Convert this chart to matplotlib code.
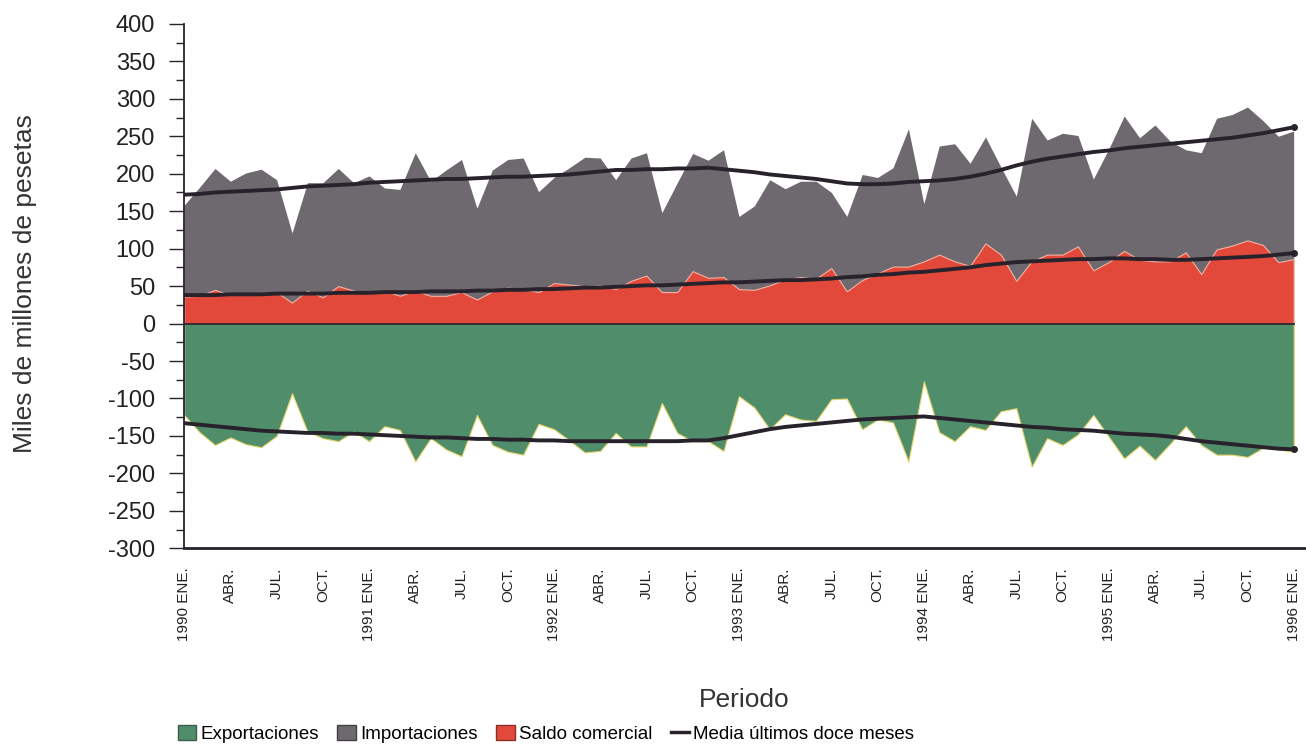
import numpy as np
import matplotlib
matplotlib.use("Agg")
import matplotlib.pyplot as plt
from matplotlib.patches import Patch
from matplotlib.lines import Line2D
from matplotlib.ticker import MultipleLocator

plt.rcParams['font.family'] = ['Liberation Sans', 'DejaVu Sans']
plt.rcParams['axes.unicode_minus'] = False

# monthly data, 1990 ENE .. 1996 ENE (miles de millones de pesetas)
importaciones = [158, 182, 207, 190, 201, 206, 192, 121, 188, 188, 207, 188,
                 197, 181, 179, 228, 190, 205, 219, 154, 205, 219, 221, 176,
                 195, 208, 222, 221, 192, 221, 228, 148, 188, 227, 218, 232,
                 143, 157, 192, 180, 190, 190, 175, 143, 199, 195, 208, 260,
                 160, 237, 240, 214, 249, 209, 170, 274, 245, 254, 251, 193,
                 233, 277, 248, 265, 243, 232, 228, 274, 279, 289, 271, 250,
                 257]

exportaciones = [-122, -145, -162, -152, -161, -165, -150, -93, -144, -153, -157, -144,
                 -157, -137, -142, -184, -153, -168, -177, -122, -162, -171, -175, -134,
                 -141, -156, -172, -170, -146, -164, -164, -106, -146, -157, -157, -170,
                 -97, -112, -141, -121, -128, -130, -101, -100, -141, -128, -132, -184,
                 -77, -145, -157, -137, -142, -117, -113, -191, -153, -162, -148, -122,
                 -151, -180, -163, -182, -160, -137, -162, -175, -175, -178, -166, -168,
                 -171]

saldo = [36, 37, 45, 38, 40, 41, 42, 28, 44, 35, 50, 44,
         40, 44, 37, 44, 37, 37, 42, 32, 43, 48, 46, 42,
         54, 52, 50, 51, 46, 57, 64, 42, 42, 70, 61, 62,
         46, 45, 51, 59, 62, 60, 74, 43, 58, 67, 76, 76,
         83, 92, 83, 77, 107, 92, 57, 83, 92, 92, 103, 71,
         82, 97, 85, 83, 83, 95, 66, 99, 104, 111, 105, 82,
         86]

# media ultimos doce meses
media_imp = [172, 173, 175, 176, 177, 178, 179, 181, 183, 184, 185, 186,
             188, 189, 190, 191, 192, 193, 193, 194, 195, 196, 196, 197,
             198, 199, 201, 203, 205, 205, 206, 206, 207, 207, 208, 206,
             204, 202, 199, 197, 195, 193, 190, 187, 186, 186, 187, 189,
             190, 191, 193, 196, 200, 205, 211, 216, 220, 223, 226, 229,
             231, 234, 236, 238, 240, 242, 244, 246, 248, 251, 254, 258,
             262]

media_exp = [-133, -135, -137, -139, -141, -143, -144, -145, -146, -146, -147, -147,
             -148, -149, -150, -151, -152, -152, -153, -154, -154, -155, -155, -156,
             -156, -157, -157, -157, -157, -157, -157, -157, -157, -156, -156, -153,
             -149, -145, -141, -138, -136, -134, -132, -130, -128, -127, -126, -125,
             -124, -126, -128, -130, -132, -134, -136, -138, -139, -141, -142, -143,
             -145, -147, -148, -149, -151, -154, -157, -159, -161, -163, -165, -167,
             -168]

media_saldo = [38, 38, 38, 39, 39, 39, 40, 40, 40, 40, 41, 41,
               41, 42, 42, 42, 43, 43, 43, 44, 44, 45, 45, 46,
               46, 47, 48, 48, 49, 50, 51, 51, 52, 53, 54, 55,
               55, 56, 57, 58, 58, 59, 60, 62, 63, 65, 66, 68,
               69, 71, 73, 75, 78, 80, 82, 83, 84, 85, 86, 86,
               87, 87, 86, 86, 85, 85, 86, 87, 88, 89, 90, 92,
               94]

tick_labels = ['1990 ENE.', 'ABR.', 'JUL.', 'OCT.',
               '1991 ENE.', 'ABR.', 'JUL.', 'OCT.',
               '1992 ENE.', 'ABR.', 'JUL.', 'OCT.',
               '1993 ENE.', 'ABR.', 'JUL.', 'OCT.',
               '1994 ENE.', 'ABR.', 'JUL.', 'OCT.',
               '1995 ENE.', 'ABR.', 'JUL.', 'OCT.',
               '1996 ENE.']

x = np.arange(len(importaciones))

c_green = '#4f8d6b'
c_grey = '#6d696f'
c_red = '#e2493a'
c_dark = '#27222b'

fig = plt.figure(figsize=(13.06, 7.46), dpi=100)
ax = fig.add_axes([0.141, 0.265, 0.859, 0.703])

# areas
ax.fill_between(x, 0, importaciones, color=c_grey, lw=0)
ax.fill_between(x, 0, saldo, facecolor=c_red, edgecolor='#f2b3a6', lw=0.8)
ax.fill_between(x, exportaciones, 0, facecolor=c_green, edgecolor='#e6d46a', lw=0.8)
ax.plot([x[0], x[-1]], [0, 0], color=c_dark, lw=1.3)

# moving averages
for m in (media_imp, media_saldo, media_exp):
    ax.plot(x, m, color=c_dark, lw=2.8, solid_capstyle='round')
    ax.plot(x[-1], m[-1], 'o', color=c_dark, ms=4)

ax.set_xlim(0, 72.8)
ax.set_ylim(-300, 400)
ax.yaxis.set_major_locator(MultipleLocator(50))
ax.yaxis.set_minor_locator(MultipleLocator(25))
ax.tick_params(axis='y', which='major', length=11, width=1, pad=10,
               labelsize=17, color=c_dark, labelcolor='#222222')
ax.tick_params(axis='y', which='minor', length=6, width=1, color=c_dark)
ax.set_xticks(x[::3])
ax.set_xticklabels(tick_labels, rotation=90, va='top', ha='center', fontsize=11)
ax.tick_params(axis='x', length=0, pad=14, labelcolor='#222222')

ax.spines['top'].set_visible(False)
ax.spines['right'].set_visible(False)
ax.spines['left'].set_color(c_dark)
ax.spines['left'].set_linewidth(1.3)
ax.spines['bottom'].set_color(c_dark)
ax.spines['bottom'].set_linewidth(2)

fig.text(0.019, 0.62, 'Miles de millones de pesetas', rotation=90,
         ha='center', va='center', fontsize=19, color='#333333')
fig.text(0.570, 0.062, 'Periodo', ha='center', va='center', fontsize=19,
         color='#333333')

# legend
handles = [Patch(facecolor=c_green, edgecolor='#3d5e4a'),
           Patch(facecolor=c_grey, edgecolor='#444046'),
           Patch(facecolor=c_red, edgecolor='#8a3026'),
           Line2D([0], [0], color=c_dark, lw=2.5)]
labels = ['Exportaciones', 'Importaciones', 'Saldo comercial',
          'Media últimos doce meses']
fig.legend(handles, labels, loc='center left', bbox_to_anchor=(0.136, 0.016),
           ncol=4, frameon=False, fontsize=13.5, handlelength=1.0,
           handleheight=0.8, handletextpad=0.2, columnspacing=1.0,
           borderaxespad=0, borderpad=0)

plt.savefig('out.png', dpi=100)
